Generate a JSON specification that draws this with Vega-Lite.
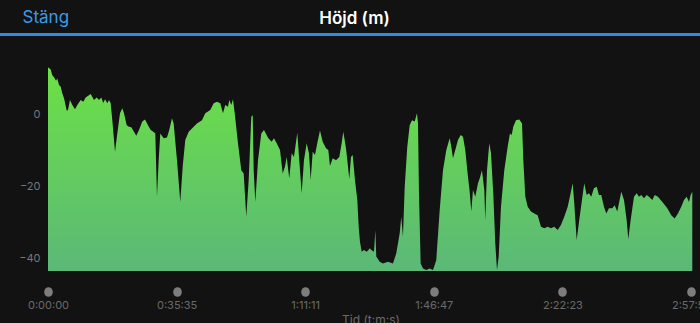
{
  "$schema": "https://vega.github.io/schema/vega-lite/v6.json",
  "width": 645,
  "height": 227,
  "autosize": {"type": "none"},
  "padding": {"left": 48, "top": 44, "right": 7, "bottom": 52},
  "background": "#121212",
  "config": {
    "view": {"stroke": null},
    "font": "Inter"
  },
  "title": {
    "text": "Höjd (m)",
    "color": "#ffffff",
    "fontSize": 17,
    "fontWeight": 600,
    "font": "Inter",
    "anchor": "middle",
    "baseline": "middle",
    "dx": -16,
    "offset": -28
  },
  "data": {
    "values": [
      {"t": 0, "h": 13.0}, {"t": 45, "h": 12.4}, {"t": 71, "h": 10.8}, {"t": 100, "h": 10.2},
      {"t": 133, "h": 9.25}, {"t": 154, "h": 9.9}, {"t": 183, "h": 8.1}, {"t": 211, "h": 7.6},
      {"t": 237, "h": 5.75}, {"t": 266, "h": 4.36}, {"t": 311, "h": 0.92}, {"t": 332, "h": 1.1},
      {"t": 365, "h": 3.9}, {"t": 404, "h": 2.5}, {"t": 448, "h": 1.3}, {"t": 487, "h": 2.5},
      {"t": 543, "h": 3.9}, {"t": 586, "h": 3.4}, {"t": 626, "h": 4.6}, {"t": 709, "h": 5.6},
      {"t": 764, "h": 3.9}, {"t": 809, "h": 4.6}, {"t": 847, "h": 3.9}, {"t": 885, "h": 4.6},
      {"t": 918, "h": 3.1}, {"t": 947, "h": 4.1}, {"t": 985, "h": 3.0}, {"t": 1013, "h": 3.9},
      {"t": 1041, "h": 3.0}, {"t": 1068, "h": -1.7}, {"t": 1113, "h": -10.5}, {"t": 1151, "h": -5.4},
      {"t": 1196, "h": 0.2}, {"t": 1234, "h": 1.6}, {"t": 1262, "h": 0.2}, {"t": 1307, "h": -3.1},
      {"t": 1345, "h": -3.5}, {"t": 1383, "h": -3.7}, {"t": 1428, "h": -4.9}, {"t": 1466, "h": -6.0},
      {"t": 1511, "h": -4.4}, {"t": 1566, "h": -2.1}, {"t": 1611, "h": -1.5}, {"t": 1661, "h": -3.1},
      {"t": 1706, "h": -4.4}, {"t": 1749, "h": -4.9}, {"t": 1782, "h": -5.4}, {"t": 1810, "h": -23.0},
      {"t": 1838, "h": -12.8}, {"t": 1865, "h": -5.4}, {"t": 1921, "h": -6.75}, {"t": 1976, "h": -6.5},
      {"t": 2014, "h": -4.4}, {"t": 2059, "h": -1.2}, {"t": 2087, "h": -2.6}, {"t": 2142, "h": -12.8},
      {"t": 2197, "h": -24.4}, {"t": 2237, "h": -14.6}, {"t": 2280, "h": -7.2}, {"t": 2337, "h": -4.9},
      {"t": 2391, "h": -4.0}, {"t": 2474, "h": -2.6}, {"t": 2557, "h": -1.7}, {"t": 2612, "h": 0.2},
      {"t": 2695, "h": 1.1}, {"t": 2752, "h": 3.0}, {"t": 2807, "h": 3.4}, {"t": 2861, "h": 3.0},
      {"t": 2906, "h": 0.2}, {"t": 2944, "h": 2.5}, {"t": 2989, "h": 2.0}, {"t": 3011, "h": 3.9},
      {"t": 3044, "h": 2.5}, {"t": 3072, "h": 4.1}, {"t": 3101, "h": 0.2}, {"t": 3155, "h": -8.1},
      {"t": 3210, "h": -15.6}, {"t": 3250, "h": -16.5}, {"t": 3293, "h": -28.5}, {"t": 3333, "h": -18.3},
      {"t": 3376, "h": -0.75}, {"t": 3400, "h": -0.3}, {"t": 3416, "h": -15.6}, {"t": 3443, "h": -24.4},
      {"t": 3488, "h": -12.8}, {"t": 3542, "h": -5.4}, {"t": 3587, "h": -4.4}, {"t": 3659, "h": -6.75},
      {"t": 3715, "h": -7.7}, {"t": 3753, "h": -6.75}, {"t": 3798, "h": -8.1}, {"t": 3853, "h": -10.0},
      {"t": 3898, "h": -16.5}, {"t": 3936, "h": -14.6}, {"t": 3964, "h": -11.9}, {"t": 4007, "h": -17.9},
      {"t": 4047, "h": -10.9}, {"t": 4085, "h": -11.9}, {"t": 4140, "h": -5.2}, {"t": 4173, "h": -12.8},
      {"t": 4213, "h": -22.0}, {"t": 4251, "h": -12.8}, {"t": 4296, "h": -8.1}, {"t": 4334, "h": -10.9},
      {"t": 4363, "h": -18.3}, {"t": 4396, "h": -10.5}, {"t": 4434, "h": -11.4}, {"t": 4472, "h": -8.1},
      {"t": 4517, "h": -4.6}, {"t": 4562, "h": -7.7}, {"t": 4617, "h": -9.5}, {"t": 4655, "h": -10.0},
      {"t": 4683, "h": -14.4}, {"t": 4728, "h": -12.3}, {"t": 4783, "h": -12.8}, {"t": 4838, "h": -11.9},
      {"t": 4877, "h": -8.1}, {"t": 4904, "h": -4.9}, {"t": 4949, "h": -9.5}, {"t": 4971, "h": -12.8},
      {"t": 5004, "h": -18.1}, {"t": 5032, "h": -11.9}, {"t": 5060, "h": -11.4}, {"t": 5098, "h": -18.3},
      {"t": 5137, "h": -23.9}, {"t": 5160, "h": -31.3}, {"t": 5181, "h": -35.5}, {"t": 5210, "h": -38.25},
      {"t": 5248, "h": -37.8}, {"t": 5293, "h": -38.25}, {"t": 5347, "h": -37.3}, {"t": 5369, "h": -37.8},
      {"t": 5414, "h": -38.25}, {"t": 5436, "h": -32.2}, {"t": 5452, "h": -39.6}, {"t": 5509, "h": -41.0},
      {"t": 5563, "h": -41.5}, {"t": 5646, "h": -41.0}, {"t": 5729, "h": -41.5}, {"t": 5784, "h": -38.7},
      {"t": 5841, "h": -33.1}, {"t": 5867, "h": -28.5}, {"t": 5895, "h": -34.1}, {"t": 5924, "h": -20.2},
      {"t": 5967, "h": -9.1}, {"t": 6007, "h": -3.1}, {"t": 6045, "h": -1.7}, {"t": 6090, "h": -2.1},
      {"t": 6128, "h": 0.2}, {"t": 6145, "h": -2.6}, {"t": 6161, "h": -22.0}, {"t": 6189, "h": -41.5},
      {"t": 6228, "h": -42.9}, {"t": 6282, "h": -43.3}, {"t": 6339, "h": -42.9}, {"t": 6394, "h": -43.3},
      {"t": 6448, "h": -40.6}, {"t": 6505, "h": -26.7}, {"t": 6560, "h": -15.6}, {"t": 6615, "h": -10.0},
      {"t": 6671, "h": -6.75}, {"t": 6698, "h": -9.1}, {"t": 6726, "h": -12.3}, {"t": 6764, "h": -10.0},
      {"t": 6809, "h": -7.2}, {"t": 6854, "h": -5.8}, {"t": 6892, "h": -6.3}, {"t": 6930, "h": -10.0},
      {"t": 6963, "h": -15.6}, {"t": 7003, "h": -21.6}, {"t": 7030, "h": -27.1}, {"t": 7058, "h": -21.1},
      {"t": 7096, "h": -23.0}, {"t": 7141, "h": -19.25}, {"t": 7169, "h": -17.9}, {"t": 7207, "h": -15.6},
      {"t": 7246, "h": -21.1}, {"t": 7262, "h": -29.4}, {"t": 7291, "h": -15.6}, {"t": 7329, "h": -8.1},
      {"t": 7357, "h": -10.9}, {"t": 7395, "h": -22.0}, {"t": 7428, "h": -35.9}, {"t": 7457, "h": -43.3},
      {"t": 7485, "h": -39.6}, {"t": 7523, "h": -25.75}, {"t": 7578, "h": -15.6}, {"t": 7634, "h": -9.1},
      {"t": 7672, "h": -5.4}, {"t": 7701, "h": -5.8}, {"t": 7727, "h": -3.5}, {"t": 7772, "h": -1.7},
      {"t": 7827, "h": -1.5}, {"t": 7872, "h": -2.6}, {"t": 7894, "h": -12.8}, {"t": 7927, "h": -23.0},
      {"t": 7967, "h": -25.75}, {"t": 8021, "h": -27.1}, {"t": 8076, "h": -27.6}, {"t": 8132, "h": -28.1},
      {"t": 8187, "h": -31.3}, {"t": 8242, "h": -31.75}, {"t": 8298, "h": -31.3}, {"t": 8353, "h": -31.75},
      {"t": 8408, "h": -31.3}, {"t": 8464, "h": -32.2}, {"t": 8519, "h": -30.8}, {"t": 8574, "h": -28.5},
      {"t": 8631, "h": -25.75}, {"t": 8685, "h": -21.6}, {"t": 8714, "h": -19.25}, {"t": 8740, "h": -24.8},
      {"t": 8780, "h": -35.0}, {"t": 8823, "h": -29.4}, {"t": 8868, "h": -23.9}, {"t": 8906, "h": -19.25},
      {"t": 8946, "h": -22.5}, {"t": 8984, "h": -22.0}, {"t": 9022, "h": -23.0}, {"t": 9067, "h": -20.6},
      {"t": 9112, "h": -20.2}, {"t": 9150, "h": -22.5}, {"t": 9188, "h": -22.5}, {"t": 9233, "h": -25.75},
      {"t": 9272, "h": -27.6}, {"t": 9316, "h": -26.2}, {"t": 9371, "h": -26.2}, {"t": 9411, "h": -25.3},
      {"t": 9454, "h": -27.1}, {"t": 9482, "h": -24.8}, {"t": 9521, "h": -21.6}, {"t": 9566, "h": -23.9},
      {"t": 9610, "h": -29.4}, {"t": 9637, "h": -34.8}, {"t": 9677, "h": -29.4}, {"t": 9732, "h": -23.0},
      {"t": 9776, "h": -22.0}, {"t": 9815, "h": -23.0}, {"t": 9853, "h": -22.5}, {"t": 9898, "h": -23.4},
      {"t": 9943, "h": -22.5}, {"t": 9981, "h": -23.0}, {"t": 10036, "h": -23.9}, {"t": 10076, "h": -22.5},
      {"t": 10130, "h": -23.0}, {"t": 10175, "h": -23.9}, {"t": 10230, "h": -25.0}, {"t": 10285, "h": -26.2},
      {"t": 10351, "h": -28.1}, {"t": 10407, "h": -29.0}, {"t": 10462, "h": -27.6}, {"t": 10517, "h": -25.75},
      {"t": 10562, "h": -23.9}, {"t": 10607, "h": -23.0}, {"t": 10645, "h": -24.4}, {"t": 10673, "h": -22.5},
      {"t": 10700, "h": -21.6}
    ]
  },
  "layer": [
    {
      "mark": {
        "type": "area",
        "interpolate": "linear",
        "color": {
          "gradient": "linear",
          "x1": 0, "y1": 0, "x2": 0, "y2": 1,
          "stops": [
            {"offset": 0, "color": "#6ce145"},
            {"offset": 1, "color": "#5bb878"}
          ]
        }
      },
      "encoding": {
        "x": {
          "field": "t",
          "type": "quantitative",
          "scale": {"domain": [0, 10712], "nice": false, "zero": false},
          "axis": {
            "values": [0, 2135.8, 4271.6, 6407.4, 8543.2, 10679],
            "labelExpr": "utcFormat(datum.value * 1000, '%-H:%M:%S')",
            "labelFlush": false,
            "labelOverlap": false,
            "domain": false,
            "grid": false,
            "ticks": true,
            "tickSize": 1,
            "tickWidth": 8.5,
            "tickCap": "round",
            "tickColor": "#7d7d7d",
            "offset": 20,
            "labelColor": "#6a6a6a",
            "labelFontSize": 11,
            "labelFont": "Inter",
            "labelPadding": 7,
            "title": "Tid (t:m:s)",
            "titleColor": "#6a6a6a",
            "titleFontSize": 12,
            "titleFont": "Inter",
            "titleFontWeight": "normal",
            "titlePadding": 4
          }
        },
        "y": {
          "field": "h",
          "type": "quantitative",
          "scale": {"domain": [-43.6, 19.46], "nice": false, "zero": false},
          "axis": {
            "values": [0, -20, -40],
            "domain": false,
            "ticks": false,
            "grid": false,
            "labelColor": "#777777",
            "labelFontSize": 11,
            "labelFont": "Inter",
            "labelPadding": 8,
            "title": "Stäng",
            "titleAngle": 0,
            "titleAlign": "left",
            "titleBaseline": "middle",
            "titleX": -26,
            "titleY": -27,
            "titleColor": "#3d9be9",
            "titleFontSize": 17,
            "titleFont": "Inter",
            "titleFontWeight": "normal"
          }
        },
        "y2": {"datum": -43.6}
      }
    },
    {
      "mark": {"type": "rule", "color": "#2e8fe6", "strokeWidth": 1.5},
      "encoding": {
        "x": {"datum": -797, "type": "quantitative"},
        "x2": {"datum": 10830},
        "y": {"datum": 22.1, "type": "quantitative"}
      }
    }
  ]
}
